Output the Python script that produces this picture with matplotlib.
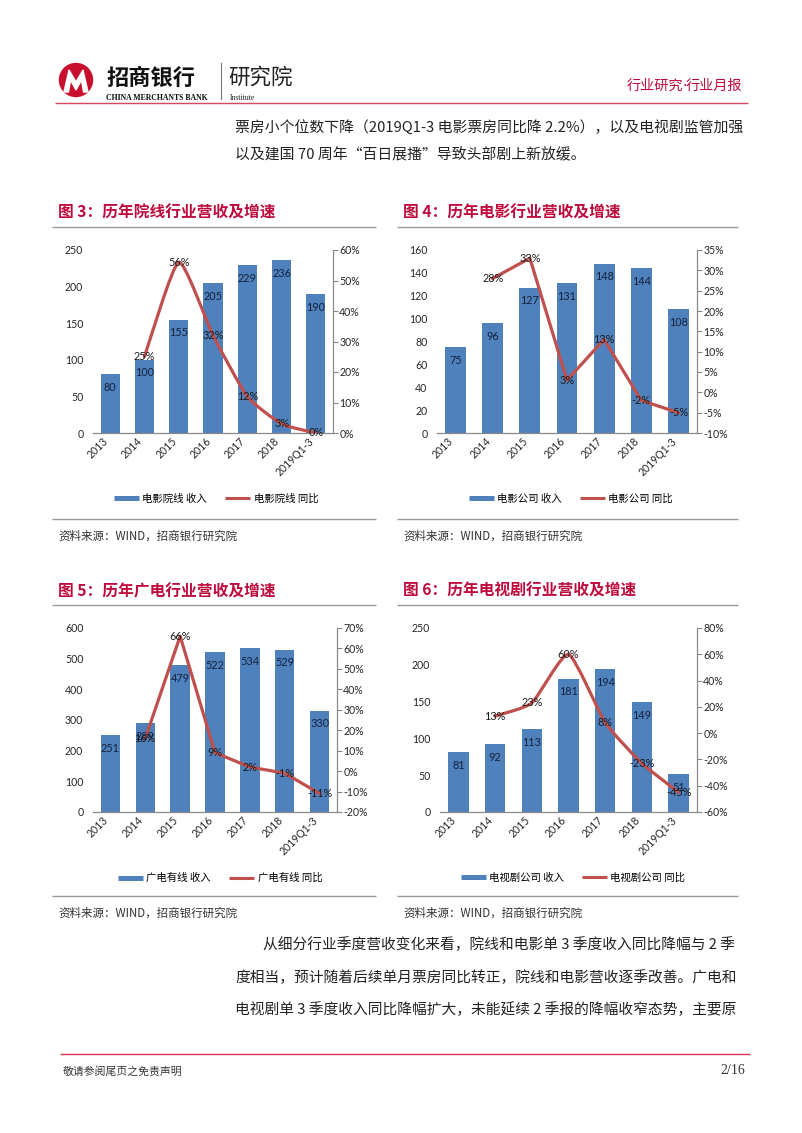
import matplotlib
matplotlib.use('Agg')
import matplotlib.pyplot as plt
from matplotlib.path import Path
from matplotlib.patches import PathPatch, Circle, Polygon
from matplotlib.lines import Line2D
import numpy as np

# ---------------- data ----------------
categories = ['2013', '2014', '2015', '2016', '2017', '2018', '2019Q1-3']

cinema_rev = [80, 100, 155, 205, 229, 236, 190]
cinema_yoy = [25, 56, 32, 12, 3, 0]          # from 2014

film_rev = [75, 96, 127, 131, 148, 144, 108]
film_yoy = [28, 33, 3, 13, -2, -5]

cable_rev = [251, 289, 479, 522, 534, 529, 330]
cable_yoy = [16, 66, 9, 2, -1, -11]

tv_rev = [81, 92, 113, 181, 194, 149, 51]
tv_yoy = [13, 23, 60, 8, -23, -45]

cinema_lticks = [0, 50, 100, 150, 200, 250]
cinema_rticks = [0, 10, 20, 30, 40, 50, 60]
film_lticks = [0, 20, 40, 60, 80, 100, 120, 140, 160]
film_rticks = [-10, -5, 0, 5, 10, 15, 20, 25, 30, 35]
cable_lticks = [0, 100, 200, 300, 400, 500, 600]
cable_rticks = [-20, -10, 0, 10, 20, 30, 40, 50, 60, 70]
tv_lticks = [0, 50, 100, 150, 200, 250]
tv_rticks = [-60, -40, -20, 0, 20, 40, 60, 80]

# ---------------- style ----------------
W, H = 802, 1133
BAR = '#4F81BD'
LINE = '#C0504D'
GRAY = '#898989'
CRIMSON = '#BE0A3C'
CJK = ['Noto Sans CJK SC', 'DejaVu Sans']
NUM = ['Lato', 'DejaVu Sans']

fig = plt.figure(figsize=(W / 100, H / 100), dpi=100)
bg = fig.add_axes([0, 0, 1, 1])
bg.set_xlim(0, W)
bg.set_ylim(H, 0)
bg.axis('off')


def txt(x, y, s, size, color='#222222', ha='left', weight='normal', family=CJK, va='center'):
    bg.text(x, y, s, fontsize=size, color=color, ha=ha, va=va, weight=weight, family=family)


def hline(x0, x1, y, color, lw):
    bg.plot([x0, x1], [y, y], color=color, lw=lw, solid_capstyle='butt')


# ---------------- header ----------------
bg.add_patch(Circle((76, 80), 16.5, color='#C8102E', zorder=3))
bg.add_patch(Polygon([(64, 92), (69, 70), (76, 82), (83, 70), (88, 92),
                      (83.5, 92), (81.5, 80), (76, 90), (70.5, 80), (68.5, 92)],
                     closed=True, color='white', zorder=4))
txt(106, 78, '招商银行', 16, color='#111111', weight='heavy')
txt(106, 98, 'CHINA MERCHANTS BANK', 5.6, color='#111111', weight='bold',
    family=['Liberation Serif', 'DejaVu Serif'])
bg.plot([221, 221], [63, 99], color='#777777', lw=0.8)
txt(228, 78, '研究院', 15.5, color='#222222')
txt(230, 98, 'Institute', 5.6, color='#222222', family=['Liberation Serif', 'DejaVu Serif'])
txt(742, 86, '行业月报', 10.2, color=CRIMSON, ha='right')
txt(684.5, 86, '·', 10.2, color=CRIMSON, ha='center', family=['DejaVu Sans'])
txt(683, 86, '行业研究', 10.2, color=CRIMSON, ha='right')
hline(55, 748, 103, '#D9475E', 1.0)

txt(235, 127, '票房小个位数下降（2019Q1-3 电影票房同比降 2.2%），以及电视剧监管加强', 10.7)
txt(235, 155, '以及建国 70 周年“百日展播”导致头部剧上新放缓。', 10.7)

txt(263, 945, '从细分行业季度营收变化来看，院线和电影单 3 季度收入同比降幅与 2 季', 10.6)
txt(235, 978, '度相当，预计随着后续单月票房同比转正，院线和电影营收逐季改善。广电和', 10.6)
txt(235, 1010, '电视剧单 3 季度收入同比降幅扩大，未能延续 2 季报的降幅收窄态势，主要原', 10.6)

hline(60, 750, 1054, '#D9364F', 1.0)
txt(63, 1071, '敬请参阅尾页之免责声明', 7.8, color='#333333')
txt(745, 1071, '2/16', 10, color='#333333', ha='right', family=['Liberation Serif', 'DejaVu Serif'])


# ---------------- charts ----------------
def smooth_path(xs, ys, k=0.09):
    pts = np.column_stack([xs, ys]).astype(float)
    n = len(pts)
    verts = [pts[0]]
    codes = [Path.MOVETO]
    for i in range(n - 1):
        p0 = pts[i - 1] if i > 0 else pts[i]
        p1 = pts[i]
        p2 = pts[i + 1]
        p3 = pts[i + 2] if i + 2 < n else pts[i + 1]
        verts += [p1 + (p2 - p0) * k, p2 - (p3 - p1) * k, p2]
        codes += [Path.CURVE4] * 3
    return Path(verts, codes)


def chart(box, title, rev, yoy, lticks, rticks, bar_name, line_name, smooth, leg_c, frame):
    l, t, r, b = box
    fl, ft, fr, fb = frame
    # title, rules, source
    txt(fl + 6, ft, title, 11.3, color=CRIMSON, weight='bold')
    hline(fl, fr, ft + 14, '#9A9A9A', 1.0)
    hline(fl, fr, fb, '#9A9A9A', 1.0)
    txt(fl + 6, fb + 17, '资料来源：WIND，招商银行研究院', 8.3, color='#333333')

    ax = fig.add_axes([l / W, 1 - b / H, (r - l) / W, (b - t) / H])
    x = np.arange(len(categories))
    ax.bar(x, rev, width=0.56, color=BAR, zorder=2)
    ax.set_xlim(-0.5, len(categories) - 0.5)
    ax.set_ylim(lticks[0], lticks[-1])
    ax.set_yticks(lticks)
    ax.set_yticklabels([str(v) for v in lticks], family=NUM, fontsize=7.6, color='#262626')
    ax.set_xticks(x)
    ax.set_xticklabels(categories, rotation=45, ha='right', va='top', family=NUM,
                       fontsize=7.6, color='#262626')
    ax.tick_params(axis='y', length=0, pad=7)
    ax.tick_params(axis='x', length=0, pad=2)
    for s in ['left', 'right', 'top']:
        ax.spines[s].set_visible(False)
    ax.spines['bottom'].set_color(GRAY)
    ax.spines['bottom'].set_linewidth(0.9)
    ax.patch.set_alpha(0)

    ax2 = ax.twinx()
    ax2.set_ylim(rticks[0], rticks[-1])
    ax2.set_yticks(rticks)
    ax2.set_yticklabels(['%d%%' % v for v in rticks], family=NUM, fontsize=7.6, color='#262626')
    ax2.tick_params(axis='y', length=3.5, pad=1, color=GRAY, direction='out')
    for s in ['left', 'top', 'bottom']:
        ax2.spines[s].set_visible(False)
    ax2.spines['right'].set_color(GRAY)
    ax2.spines['right'].set_linewidth(0.9)

    xl = x[1:]
    if smooth:
        ax2.add_patch(PathPatch(smooth_path(xl, yoy), fill=False, edgecolor=LINE, lw=2.3,
                                joinstyle='round', capstyle='round', zorder=3))
    else:
        ax2.plot(xl, yoy, color=LINE, lw=2.3, solid_joinstyle='round', zorder=3)

    for xi, v in zip(x, rev):
        ax2.annotate(str(v), xy=(xi, v), xycoords=ax.transData, xytext=(0, -9.5),
                     textcoords='offset points', ha='center', va='center',
                     fontsize=7.8, family=NUM, color='#14213D', zorder=5)
    for xi, v in zip(xl, yoy):
        ax2.annotate('%d%%' % v, xy=(xi, v), xytext=(0, 0), textcoords='offset points',
                     ha='center', va='center', fontsize=7.8, family=NUM,
                     color='#1a1a1a', zorder=5)

    handles = [Line2D([], [], color=BAR, lw=3.6, solid_capstyle='butt'),
               Line2D([], [], color=LINE, lw=2.2, solid_capstyle='butt')]
    fig.legend(handles, [bar_name, line_name], loc='center',
               bbox_to_anchor=(leg_c[0] / W, 1 - leg_c[1] / H), ncol=2, frameon=False,
               prop={'family': CJK, 'size': 7.5}, handlelength=2.4, handletextpad=0.3,
               columnspacing=1.8, borderpad=0)


chart((93, 250, 333, 433), '图 3：历年院线行业营收及增速', cinema_rev, cinema_yoy,
      cinema_lticks, cinema_rticks, '电影院线 收入', '电影院线 同比', True,
      (216, 499), (52, 213, 376, 519))
chart((437, 250, 697, 433), '图 4：历年电影行业营收及增速', film_rev, film_yoy,
      film_lticks, film_rticks, '电影公司 收入', '电影公司 同比', False,
      (571, 499), (397, 213, 738, 519))
chart((93, 628, 337, 812), '图 5：历年广电行业营收及增速', cable_rev, cable_yoy,
      cable_lticks, cable_rticks, '广电有线 收入', '广电有线 同比', False,
      (220, 878), (52, 591, 376, 896))
chart((440, 628, 697, 812), '图 6：历年电视剧行业营收及增速', tv_rev, tv_yoy,
      tv_lticks, tv_rticks, '电视剧公司 收入', '电视剧公司 同比', True,
      (573, 878), (397, 591, 738, 896))

fig.savefig('out.png', dpi=100)
